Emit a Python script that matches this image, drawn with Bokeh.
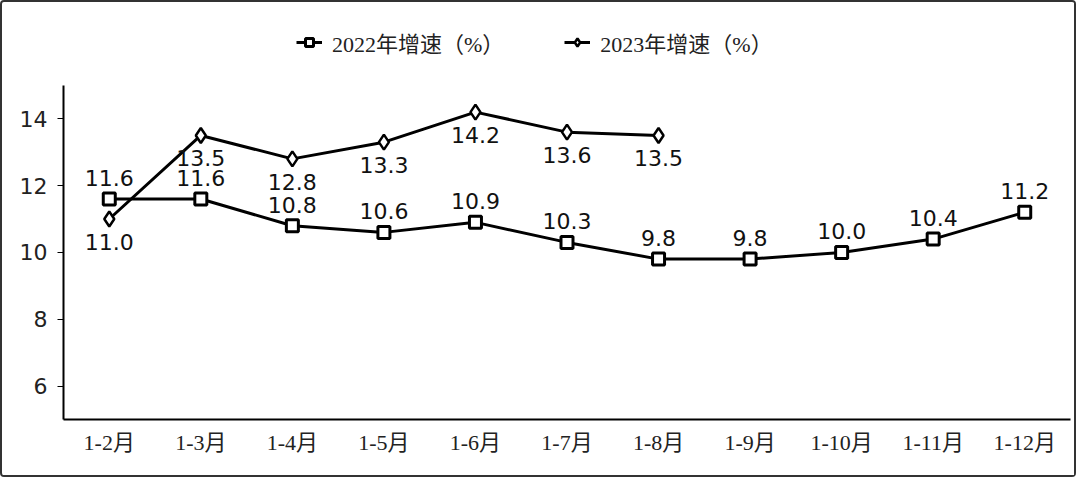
from bokeh.plotting import figure
from bokeh.models import ColumnDataSource, Range1d, Legend, LegendItem
from bokeh.core.properties import value
from bokeh.embed import file_html
from bokeh.resources import INLINE

months = ["1-2月", "1-3月", "1-4月", "1-5月", "1-6月", "1-7月", "1-8月", "1-9月", "1-10月", "1-11月", "1-12月"]
growth_2022 = [11.6, 11.6, 10.8, 10.6, 10.9, 10.3, 9.8, 9.8, 10.0, 10.4, 11.2]
growth_2023 = [11.0, 13.5, 12.8, 13.3, 14.2, 13.6, 13.5]
name_2022 = "2022年增速（%）"
name_2023 = "2023年增速（%）"
y_ticks = [6, 8, 10, 12, 14]
y_axis_min, y_axis_max = 5, 15

SERIF = "'Liberation Serif', 'Noto Sans CJK SC'"
SANS = "DejaVu Sans"

s22 = ColumnDataSource(dict(x=months, y=growth_2022, t=[f"{v:.1f}" for v in growth_2022]))
s23 = ColumnDataSource(dict(x=months[:len(growth_2023)], y=growth_2023, t=[f"{v:.1f}" for v in growth_2023]))

# frame extends above the axis top to leave room for the legend
p = figure(x_range=months, y_range=Range1d(y_axis_min, 17.42), width=1076, height=477,
           output_backend="svg", toolbar_location=None,
           min_border_left=61, min_border_right=8, min_border_top=2, min_border_bottom=60)
p.x_range.range_padding = 0
p.outline_line_color = None
p.xgrid.visible = False
p.ygrid.visible = False
p.styles = {"border": "2px solid #333", "border-radius": "4px"}

l22 = p.line("x", "y", source=s22, line_color="black", line_width=3)
m22 = p.scatter("x", "y", source=s22, marker="square", size=12, fill_color="white",
                line_color="black", line_width=3)
l23 = p.line("x", "y", source=s23, line_color="black", line_width=3)
m23 = p.scatter("x", "y", source=s23, marker="diamond", size=15,
                fill_color="white", line_color="black", line_width=2.5)

p.text("x", "y", text="t", source=s22, text_align="center", text_baseline="middle",
       y_offset=-21, text_font=value(SANS), text_font_size="22px", text_color="#111")
p.text("x", "y", text="t", source=s23, text_align="center", text_baseline="middle",
       y_offset=23, text_font=value(SANS), text_font_size="22px", text_color="#111")

p.yaxis.ticker = y_ticks
p.yaxis.bounds = (y_axis_min, y_axis_max)
p.yaxis.major_label_text_font = SANS
p.yaxis.major_label_text_font_size = "22px"
p.yaxis.major_label_text_color = "#222"
p.yaxis.major_tick_out = 6
p.yaxis.major_tick_in = 0
p.yaxis.minor_tick_line_color = None
p.yaxis.axis_line_width = 2
p.yaxis.major_label_standoff = 10

p.xaxis.major_tick_line_color = None
p.xaxis.axis_line_width = 2
p.xaxis.major_label_text_font = SERIF
p.xaxis.major_label_text_font_size = "22px"
p.xaxis.major_label_text_color = "#222"
p.xaxis.major_label_standoff = 4

legend = Legend(items=[LegendItem(label=name_2022, renderers=[l22, m22]),
                       LegendItem(label=name_2023, renderers=[l23, m23])],
                orientation="horizontal", location=(233, 361),
                border_line_color=None, background_fill_alpha=0,
                label_text_font=SERIF, label_text_font_size="22px",
                label_text_color="#222",
                glyph_width=26, label_standoff=10, spacing=60, padding=10)
p.add_layout(legend, "center")

open("out.html", "w").write(file_html(p, INLINE))
